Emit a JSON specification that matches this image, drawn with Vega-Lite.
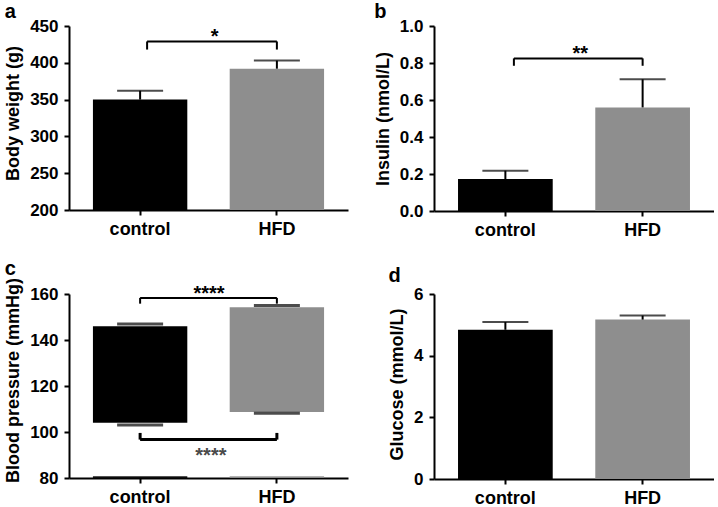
{
  "$schema": "https://vega.github.io/schema/vega-lite/v6.json",
  "padding": {"left": 4, "top": 2, "right": 0, "bottom": 0},
  "background": "white",
  "datasets": {
    "a": [{"group": "control", "mean": 350, "hi": 362}, {"group": "HFD", "mean": 392, "hi": 403}],
    "b": [{"group": "control", "mean": 0.173, "hi": 0.218}, {"group": "HFD", "mean": 0.56, "hi": 0.712}],
    "c": [{"group": "control", "dia": 104, "sys": 146, "dia_lo": 103, "sys_hi": 147, "base": 80, "base_top": 80.8}, {"group": "HFD", "dia": 108.7, "sys": 154.2, "dia_lo": 108.2, "sys_hi": 155, "base": 80, "base_top": 80.8}],
    "d": [{"group": "control", "mean": 4.84, "hi": 5.09}, {"group": "HFD", "mean": 5.17, "hi": 5.3}],
    "brA": [{"g1": "control", "g2": "HFD", "top": 429, "end": 418, "label": "*"}],
    "brB": [{"g1": "control", "g2": "HFD", "top": 0.825, "end": 0.785, "label": "**"}],
    "brC1": [{"g1": "control", "g2": "HFD", "top": 158.3, "end": 155.8, "label": "****"}],
    "brC2": [{"g1": "control", "g2": "HFD", "top": 96.7, "end": 99.6, "label": "****", "ty": 87}]
  },
  "columns": 2,
  "spacing": {"row": 20, "column": 26},
  "concat": [
    {
      "width": 279, "height": 184,
      "title": {"text": "a"},
      "layer": [
        {"data": {"name": "a"}, "mark": {"type": "bar"},
         "encoding": {
           "x": {"field": "group", "type": "nominal", "scale": {"domain": ["control", "HFD"], "paddingInner": 0.31, "paddingOuter": 0.175}},
           "y": {"field": "mean", "type": "quantitative", "title": "Body weight (g)", "scale": {"domain": [200, 450], "zero": false, "nice": false}, "axis": {"values": [200, 250, 300, 350, 400, 450], "tickCount": 6, "titleY": 87}},
           "y2": {"datum": 200},
           "color": {"field": "group", "type": "nominal", "scale": {"domain": ["control", "HFD"], "range": ["#000000", "#8e8e8e"]}, "legend": null}}},
        {"data": {"name": "a"}, "mark": {"type": "rule", "color": "#000", "strokeWidth": 2},
         "encoding": {"x": {"field": "group", "type": "nominal"}, "y": {"field": "mean", "type": "quantitative"}, "y2": {"field": "hi"}}},
        {"data": {"name": "a"}, "mark": {"type": "tick", "color": "#000", "size": 46, "thickness": 2},
         "encoding": {"x": {"field": "group", "type": "nominal"}, "y": {"field": "hi", "type": "quantitative"}}},
        {"data": {"name": "brA"}, "mark": {"type": "rule", "color": "#000", "strokeWidth": 2},
         "encoding": {"x": {"field": "g1", "type": "nominal", "bandPosition": 0.574}, "x2": {"field": "g2"}, "y": {"field": "top", "type": "quantitative"}}},
        {"data": {"name": "brA"}, "mark": {"type": "rule", "color": "#000", "strokeWidth": 2},
         "encoding": {"x": {"field": "g1", "type": "nominal", "bandPosition": 0.574}, "y": {"field": "top", "type": "quantitative"}, "y2": {"field": "end"}}},
        {"data": {"name": "brA"}, "mark": {"type": "rule", "color": "#000", "strokeWidth": 2},
         "encoding": {"x": {"field": "g2", "type": "nominal"}, "y": {"field": "top", "type": "quantitative"}, "y2": {"field": "end"}}},
        {"data": {"name": "brA"}, "mark": {"type": "text", "fontSize": 20, "fontWeight": "bold", "baseline": "alphabetic", "dy": 2, "color": "#000"},
         "encoding": {"x": {"field": "g1", "type": "nominal", "bandPosition": 1.29}, "y": {"field": "top", "type": "quantitative"}, "text": {"field": "label"}}}
      ]
    },
    {
      "width": 280, "height": 185,
      "title": {"text": "b"},
      "layer": [
        {"data": {"name": "b"}, "mark": {"type": "bar"},
         "encoding": {
           "x": {"field": "group", "type": "nominal", "scale": {"domain": ["control", "HFD"], "paddingInner": 0.31, "paddingOuter": 0.175}},
           "y": {"field": "mean", "type": "quantitative", "title": "Insulin (nmol/L)", "scale": {"domain": [0, 1], "nice": false}, "axis": {"values": [0, 0.2, 0.4, 0.6, 0.8, 1.0], "tickCount": 6, "format": ".1f"}},
           "color": {"field": "group", "type": "nominal", "scale": {"domain": ["control", "HFD"], "range": ["#000000", "#8e8e8e"]}, "legend": null}}},
        {"data": {"name": "b"}, "mark": {"type": "rule", "color": "#000", "strokeWidth": 2},
         "encoding": {"x": {"field": "group", "type": "nominal"}, "y": {"field": "mean", "type": "quantitative"}, "y2": {"field": "hi"}}},
        {"data": {"name": "b"}, "mark": {"type": "tick", "color": "#000", "size": 46, "thickness": 2},
         "encoding": {"x": {"field": "group", "type": "nominal"}, "y": {"field": "hi", "type": "quantitative"}}},
        {"data": {"name": "brB"}, "mark": {"type": "rule", "color": "#000", "strokeWidth": 2},
         "encoding": {"x": {"field": "g1", "type": "nominal", "bandPosition": 0.59}, "x2": {"field": "g2"}, "y": {"field": "top", "type": "quantitative"}}},
        {"data": {"name": "brB"}, "mark": {"type": "rule", "color": "#000", "strokeWidth": 2},
         "encoding": {"x": {"field": "g1", "type": "nominal", "bandPosition": 0.59}, "y": {"field": "top", "type": "quantitative"}, "y2": {"field": "end"}}},
        {"data": {"name": "brB"}, "mark": {"type": "rule", "color": "#000", "strokeWidth": 2},
         "encoding": {"x": {"field": "g2", "type": "nominal"}, "y": {"field": "top", "type": "quantitative"}, "y2": {"field": "end"}}},
        {"data": {"name": "brB"}, "mark": {"type": "text", "fontSize": 20, "fontWeight": "bold", "baseline": "alphabetic", "dy": 2, "color": "#000"},
         "encoding": {"x": {"field": "g1", "type": "nominal", "bandPosition": 1.29}, "y": {"field": "top", "type": "quantitative"}, "text": {"field": "label"}}}
      ]
    },
    {
      "width": 279, "height": 184,
      "title": {"text": "c", "offset": -2},
      "layer": [
        {"data": {"name": "c"}, "mark": {"type": "bar"},
         "encoding": {
           "x": {"field": "group", "type": "nominal", "scale": {"domain": ["control", "HFD"], "paddingInner": 0.31, "paddingOuter": 0.175}},
           "y": {"field": "sys", "type": "quantitative", "title": "Blood pressure (mmHg)", "scale": {"domain": [80, 160], "zero": false, "nice": false}, "axis": {"values": [80, 100, 120, 140, 160], "tickCount": 5, "titleY": 86}},
           "y2": {"field": "dia"},
           "color": {"field": "group", "type": "nominal", "scale": {"domain": ["control", "HFD"], "range": ["#000000", "#8e8e8e"]}, "legend": null}}},
        {"data": {"name": "c"}, "mark": {"type": "bar", "opacity": 0.9},
         "encoding": {"x": {"field": "group", "type": "nominal"}, "y": {"field": "base_top", "type": "quantitative"}, "y2": {"field": "base"},
           "color": {"field": "group", "type": "nominal", "legend": null}}},
        {"data": {"name": "c"}, "mark": {"type": "tick", "color": "#000", "size": 46, "thickness": 3},
         "encoding": {"x": {"field": "group", "type": "nominal"}, "y": {"field": "sys_hi", "type": "quantitative"}}},
        {"data": {"name": "c"}, "mark": {"type": "tick", "color": "#000", "size": 46, "thickness": 3},
         "encoding": {"x": {"field": "group", "type": "nominal"}, "y": {"field": "dia_lo", "type": "quantitative"}}},
        {"data": {"name": "brC1"}, "mark": {"type": "rule", "color": "#000", "strokeWidth": 2},
         "encoding": {"x": {"field": "g1", "type": "nominal"}, "x2": {"field": "g2"}, "y": {"field": "top", "type": "quantitative"}}},
        {"data": {"name": "brC1"}, "mark": {"type": "rule", "color": "#000", "strokeWidth": 2},
         "encoding": {"x": {"field": "g1", "type": "nominal"}, "y": {"field": "top", "type": "quantitative"}, "y2": {"field": "end"}}},
        {"data": {"name": "brC1"}, "mark": {"type": "rule", "color": "#000", "strokeWidth": 2},
         "encoding": {"x": {"field": "g2", "type": "nominal"}, "y": {"field": "top", "type": "quantitative"}, "y2": {"field": "end"}}},
        {"data": {"name": "brC1"}, "mark": {"type": "text", "fontSize": 20, "fontWeight": "bold", "baseline": "alphabetic", "dy": 2, "color": "#000"},
         "encoding": {"x": {"field": "g1", "type": "nominal", "bandPosition": 1.23}, "y": {"field": "top", "type": "quantitative"}, "text": {"field": "label"}}},
        {"data": {"name": "brC2"}, "mark": {"type": "rule", "color": "#000", "strokeWidth": 3},
         "encoding": {"x": {"field": "g1", "type": "nominal"}, "x2": {"field": "g2"}, "y": {"field": "top", "type": "quantitative"}}},
        {"data": {"name": "brC2"}, "mark": {"type": "rule", "color": "#000", "strokeWidth": 3},
         "encoding": {"x": {"field": "g1", "type": "nominal"}, "y": {"field": "top", "type": "quantitative"}, "y2": {"field": "end"}}},
        {"data": {"name": "brC2"}, "mark": {"type": "rule", "color": "#000", "strokeWidth": 3},
         "encoding": {"x": {"field": "g2", "type": "nominal"}, "y": {"field": "top", "type": "quantitative"}, "y2": {"field": "end"}}},
        {"data": {"name": "brC2"}, "mark": {"type": "text", "fontSize": 20, "fontWeight": "bold", "baseline": "alphabetic", "color": "#4a4a4a"},
         "encoding": {"x": {"field": "g1", "type": "nominal", "bandPosition": 1.25}, "y": {"field": "ty", "type": "quantitative"}, "text": {"field": "label"}}}
      ]
    },
    {
      "width": 280, "height": 185,
      "title": {"text": "d", "offset": -1},
      "layer": [
        {"data": {"name": "d"}, "mark": {"type": "bar"},
         "encoding": {
           "x": {"field": "group", "type": "nominal", "scale": {"domain": ["control", "HFD"], "paddingInner": 0.31, "paddingOuter": 0.175}},
           "y": {"field": "mean", "type": "quantitative", "title": "Glucose (mmol/L)", "scale": {"domain": [0, 6], "nice": false}, "axis": {"values": [0, 2, 4, 6], "tickCount": 4, "titleY": 90}},
           "color": {"field": "group", "type": "nominal", "scale": {"domain": ["control", "HFD"], "range": ["#000000", "#8e8e8e"]}, "legend": null}}},
        {"data": {"name": "d"}, "mark": {"type": "rule", "color": "#000", "strokeWidth": 2},
         "encoding": {"x": {"field": "group", "type": "nominal"}, "y": {"field": "mean", "type": "quantitative"}, "y2": {"field": "hi"}}},
        {"data": {"name": "d"}, "mark": {"type": "tick", "color": "#000", "size": 46, "thickness": 2},
         "encoding": {"x": {"field": "group", "type": "nominal"}, "y": {"field": "hi", "type": "quantitative"}}}
      ]
    }
  ],
  "config": {
    "font": "Liberation Sans",
    "view": {"stroke": null},
    "axis": {"domainColor": "#000", "domainWidth": 2, "tickColor": "#000", "tickWidth": 2, "tickSize": 5, "labelColor": "#000", "labelFontWeight": "bold", "labelFontSize": 17, "labelPadding": 6, "labelOverlap": false, "labelFlush": false, "labelBound": false, "titleFontSize": 18, "titleFontWeight": "bold", "titleColor": "#000", "titlePadding": 7, "grid": false},
    "axisX": {"labelAngle": 0, "labelFontSize": 18, "title": null, "labelPadding": 5},
    "title": {"anchor": "start", "frame": "bounds", "fontSize": 20, "fontWeight": "bold", "color": "#000", "offset": -5}
  }
}
